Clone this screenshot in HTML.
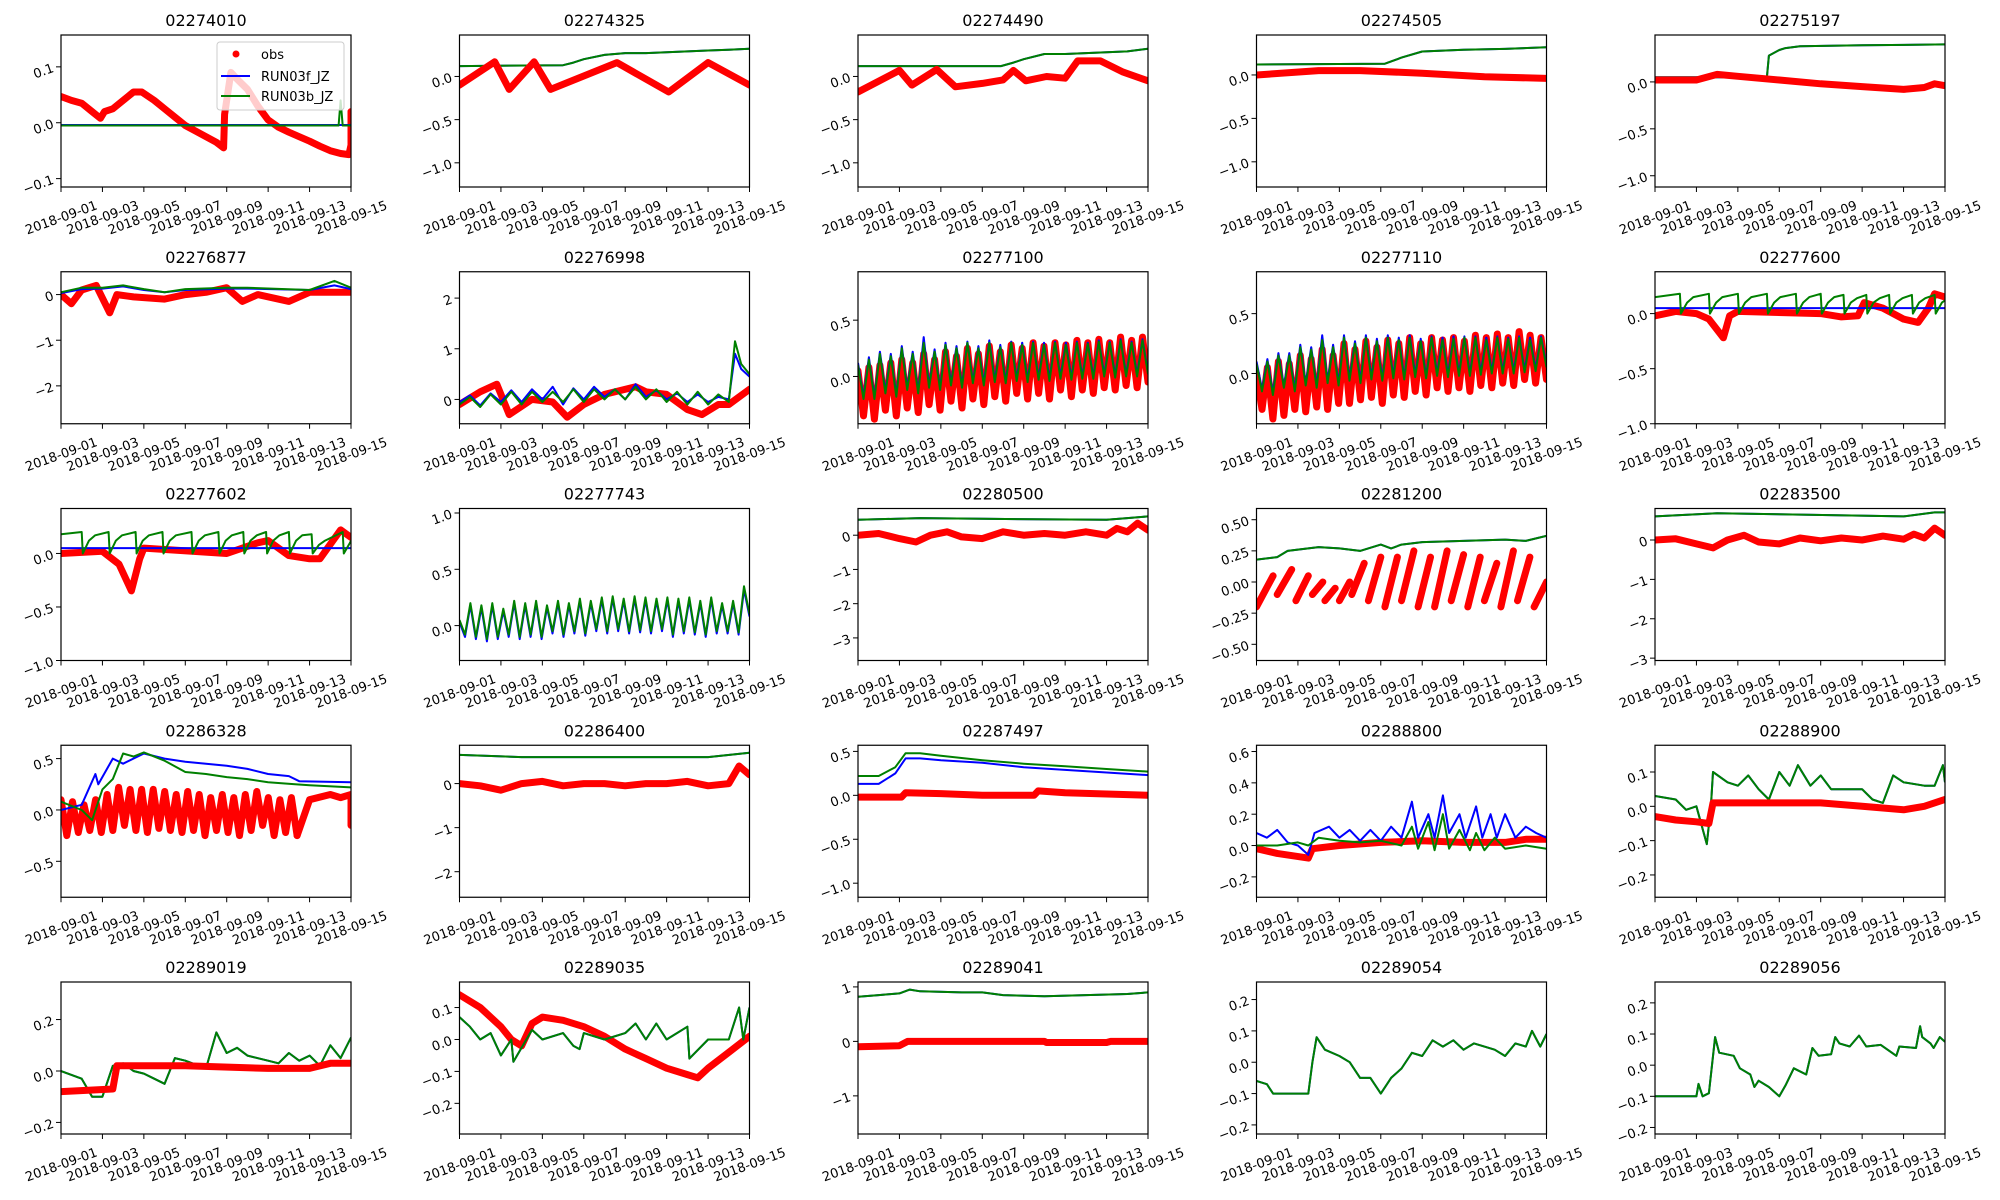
<!DOCTYPE html>
<html><head><meta charset="utf-8"><title>Station comparison grid</title>
<style>
html,body{margin:0;padding:0;background:#fff;}
svg{display:block;font-family:"DejaVu Sans","Liberation Sans",sans-serif;}
</style></head>
<body>
<svg id="fig" width="2000" height="1200" viewBox="0 0 2000 1200" xmlns="http://www.w3.org/2000/svg">
<rect x="0" y="0" width="2000" height="1200" fill="#fff"/>
</svg>
<script>
const panelNames=["02274010","02274325","02274490","02274505","02275197","02276877","02276998","02277100","02277110","02277600","02277602","02277743","02280500","02281200","02283500","02286328","02286400","02287497","02288800","02288900","02289019","02289035","02289041","02289054","02289056"];
const yMins=[-0.115,-1.28,-1.28,-1.29,-1.12,-2.83,-0.48,-0.42,-0.42,-1.0,-1.0,-0.31,-3.66,-0.63,-3.06,-0.85,-2.58,-1.16,-0.33,-0.265,-0.245,-0.296,-1.7,-0.229,-0.221];
const yMaxs=[0.157,0.48,0.48,0.46,0.5,0.5,2.52,0.93,0.85,0.38,0.42,1.04,0.78,0.59,0.8,0.63,0.87,0.57,0.64,0.178,0.346,0.18,1.09,0.256,0.267];
const yTickVals=[[-0.1,0,0.1],[-1,-0.5,0],[-1,-0.5,0],[-1,-0.5,0],[-1,-0.5,0],[-2,-1,0],[0,1,2],[0,0.5],[0,0.5],[-1,-0.5,0],[-1,-0.5,0],[0,0.5,1],[-3,-2,-1,0],[-0.5,-0.25,0,0.25,0.5],[-3,-2,-1,0],[-0.5,0,0.5],[-2,-1,0],[-1,-0.5,0,0.5],[-0.2,0,0.2,0.4,0.6],[-0.2,-0.1,0,0.1],[-0.2,0,0.2],[-0.2,-0.1,0,0.1],[-1,0,1],[-0.2,-0.1,0,0.1,0.2],[-0.2,-0.1,0,0.1,0.2]];
const yTickDecimals=[1,1,1,1,1,0,0,1,1,1,1,1,0,2,0,1,0,1,1,1,1,1,0,1,1];
const xTickLabels=["2018-09-01","2018-09-03","2018-09-05","2018-09-07","2018-09-09","2018-09-11","2018-09-13","2018-09-15"];
const xTickDays=[0,2,4,6,8,10,12,14];

// P0
const p0_obs_t=[0,0.5,1,1.5,1.9,2.1,2.5,3,3.5,3.9,4.5,5,5.5,6,6.5,7,7.5,7.85,7.9,8.2,8.5,9,9.5,10,10.5,11,11.5,12,12.5,13,13.5,13.9,14,14];
const p0_obs_v=[0.047,0.04,0.035,0.02,0.008,0.02,0.025,0.04,0.055,0.055,0.04,0.025,0.01,-0.005,-0.015,-0.025,-0.035,-0.045,0.015,0.09,0.078,0.06,0.03,0.005,-0.008,-0.017,-0.025,-0.033,-0.042,-0.05,-0.055,-0.057,-0.04,0.02];
const p0_f_t=[0,14]; const p0_f_v=[-0.004,-0.004];
const p0_b_t=[0,13.4,13.5,13.6,14]; const p0_b_v=[-0.005,-0.005,0.04,-0.005,-0.005];
// P1
const p1_m_t=[0,5,5.5,6,7,8,9,10,11,12,13,14]; const p1_m_v=[0.12,0.13,0.16,0.2,0.25,0.27,0.27,0.28,0.29,0.3,0.31,0.32];
const p1_obs_t=[0,1.7,2.4,3.6,4.4,7.6,10.1,12,14]; const p1_obs_v=[-0.1,0.17,-0.15,0.17,-0.15,0.16,-0.18,0.16,-0.1];
// P2
const p2_m_t=[0,6.9,7.5,8,9,10,11,12,13,14]; const p2_m_v=[0.12,0.12,0.16,0.2,0.26,0.26,0.27,0.28,0.29,0.32];
const p2_obs_t=[0,2.0,2.6,3.8,4.7,6,7,7.5,8.1,9.1,10,10.6,11.7,12.8,14]; const p2_obs_v=[-0.18,0.07,-0.1,0.08,-0.12,-0.08,-0.04,0.07,-0.05,0,-0.02,0.18,0.18,0.05,-0.05];
// P3
const p3_m_t=[0,6.2,7,8,9,10,12,14]; const p3_m_v=[0.12,0.13,0.2,0.27,0.28,0.29,0.3,0.32];
const p3_obs_t=[0,3,5,8,11,14]; const p3_obs_v=[0,0.05,0.05,0.02,-0.02,-0.04];
// P4
const p4_m_t=[0,5.4,5.5,6,6.3,7,10,14]; const p4_m_v=[0.05,0.05,0.28,0.34,0.36,0.38,0.39,0.4];
const p4_obs_t=[0,2,3,4,6,8,10,12,13,13.5,14]; const p4_obs_v=[0.02,0.02,0.08,0.06,0.02,-0.02,-0.05,-0.08,-0.06,-0.02,-0.04];
// P5
const p5_t=[0,1,2,3,4,5,6,8,9,12,13.2,14];
const p5_b_v=[0.05,0.15,0.15,0.2,0.12,0.05,0.12,0.15,0.15,0.1,0.3,0.15];
const p5_f_v=[0.03,0.12,0.13,0.18,0.1,0.05,0.1,0.13,0.13,0.1,0.2,0.12];
const p5_obs_t=[0,0.5,1,1.7,2.35,2.7,3.5,5,6,7,8,8.75,9.5,11,12,14]; const p5_obs_v=[0,-0.2,0.1,0.2,-0.4,0,-0.05,-0.1,0,0.05,0.15,-0.15,0,-0.15,0.05,0.05];
// P6
const p6_t=[0,0.5,1,1.5,2,2.5,3,3.5,4,4.5,5,5.5,6,6.5,7,7.5,8,8.5,9,9.5,10,10.5,11,11.5,12,12.5,13,13.3,13.6,14];
const p6_b_v=[-0.1,0.05,-0.15,0.1,-0.1,0.15,-0.1,0.15,-0.05,0.15,-0.05,0.2,-0.05,0.2,0,0.2,0,0.25,0,0.2,-0.05,0.15,-0.1,0.15,-0.1,0.1,-0.05,1.15,0.7,0.5];
const p6_f_v=[-0.05,0.08,-0.12,0.12,-0.05,0.18,-0.05,0.2,0,0.25,-0.1,0.22,0,0.25,0.05,0.2,0,0.3,0.05,0.18,0,0.12,-0.05,0.1,-0.05,0.05,0,0.9,0.6,0.45];
const p6_obs_t=[0,1,1.8,2.4,3.5,4.5,5.2,6,7,8.5,9,10,11,11.7,12.5,13,14]; const p6_obs_v=[-0.1,0.15,0.3,-0.3,0,-0.05,-0.35,-0.1,0.1,0.25,0.15,0.1,-0.2,-0.3,-0.1,-0.1,0.2];
// P7 (uniform sampling over 14 days)
const p7_obs_v=[0.05,-0.35,0.08,-0.38,0.1,-0.3,0.12,-0.35,0.15,-0.28,0.12,-0.32,0.2,-0.25,0.15,-0.3,0.22,-0.22,0.18,-0.28,0.25,-0.2,0.2,-0.25,0.27,-0.18,0.22,-0.22,0.28,-0.15,0.25,-0.2,0.3,-0.15,0.27,-0.2,0.3,-0.12,0.28,-0.18,0.32,-0.12,0.3,-0.15,0.33,-0.1,0.3,-0.12,0.35,-0.08,0.32,-0.1,0.35,-0.05];
const p7_b_v=[0.1,-0.2,0.15,-0.2,0.2,-0.15,0.18,-0.18,0.25,-0.12,0.2,-0.15,0.3,-0.1,0.22,-0.12,0.28,-0.08,0.25,-0.1,0.3,-0.06,0.25,-0.08,0.3,-0.05,0.26,-0.06,0.3,-0.04,0.28,-0.05,0.3,-0.03,0.28,-0.04,0.3,-0.02,0.28,-0.03,0.3,-0.02,0.29,-0.02,0.31,0.0,0.3,-0.01,0.32,0.0,0.3,0.0,0.32,0.02];
const p7_f_v=[0.12,-0.18,0.17,-0.18,0.22,-0.13,0.2,-0.16,0.27,-0.1,0.22,-0.13,0.35,-0.08,0.24,-0.1,0.3,-0.06,0.27,-0.08,0.31,-0.04,0.27,-0.06,0.32,-0.03,0.28,-0.04,0.31,-0.02,0.3,-0.03,0.31,-0.01,0.3,-0.02,0.31,0.0,0.3,-0.01,0.31,0.0,0.3,0.0,0.32,0.02,0.31,0.01,0.33,0.02,0.31,0.02,0.33,0.04];
// P8
const p8_obs_v=[0.0,-0.3,0.05,-0.38,0.1,-0.35,0.08,-0.3,0.15,-0.32,0.12,-0.28,0.2,-0.3,0.15,-0.25,0.25,-0.25,0.2,-0.22,0.27,-0.2,0.22,-0.25,0.28,-0.18,0.25,-0.2,0.3,-0.15,0.25,-0.18,0.3,-0.12,0.28,-0.15,0.3,-0.12,0.27,-0.15,0.32,-0.1,0.3,-0.12,0.33,-0.08,0.3,-0.1,0.35,-0.05,0.32,-0.08,0.3,-0.05];
const p8_b_v=[0.08,-0.15,0.1,-0.18,0.15,-0.12,0.15,-0.15,0.22,-0.1,0.2,-0.12,0.28,-0.08,0.22,-0.1,0.3,-0.06,0.25,-0.08,0.3,-0.05,0.27,-0.06,0.3,-0.04,0.28,-0.05,0.3,-0.03,0.27,-0.04,0.3,-0.02,0.28,-0.03,0.29,-0.02,0.3,-0.02,0.3,-0.01,0.28,0.0,0.3,0.0,0.29,0.0,0.3,0.01,0.28,0.02,0.3,0.05];
const p8_f_v=[0.1,-0.13,0.12,-0.16,0.17,-0.1,0.17,-0.13,0.24,-0.08,0.22,-0.1,0.32,-0.06,0.24,-0.08,0.32,-0.04,0.27,-0.06,0.32,-0.03,0.29,-0.04,0.32,-0.02,0.3,-0.03,0.32,-0.01,0.29,-0.02,0.31,0.0,0.3,-0.01,0.31,0.0,0.31,0.0,0.31,0.01,0.3,0.02,0.31,0.02,0.3,0.02,0.31,0.03,0.3,0.04,0.31,0.07];
// P9
const p9_f_t=[0,14]; const p9_f_v=[0.05,0.05];
const p9_b_t=[0,1.2,1.25,1.55,1.85,2.6,2.65,2.95,3.25,4.0,4.05,4.35,4.65,5.4,5.45,5.75,6.05,6.8,6.85,7.15,7.45,8.0,8.05,8.35,8.65,9.1,9.15,9.45,9.75,10.2,10.25,10.55,10.85,11.3,11.35,11.65,11.95,12.4,12.45,12.75,13.05,13.5,13.55,13.85,14];
const p9_b_v=[0.15,0.18,0,0.1,0.15,0.18,0,0.1,0.15,0.18,0,0.1,0.15,0.18,0,0.1,0.15,0.18,0,0.1,0.15,0.18,0,0.1,0.15,0.17,0,0.1,0.14,0.17,0,0.1,0.14,0.17,0,0.1,0.14,0.17,0,0.1,0.14,0.17,0,0.1,0.12];
const p9_obs_t=[0,1,2,2.6,3.3,3.6,4,8,9,9.8,10.1,11,12,12.7,13.2,13.5,14]; const p9_obs_v=[-0.02,0.02,0,-0.05,-0.22,-0.02,0.02,0,-0.03,-0.02,0.1,0.05,-0.05,-0.08,0.05,0.18,0.15];
// P10
const p10_f_t=[0,14]; const p10_f_v=[0.05,0.05];
const p10_b_t=[0,1.0,1.05,1.35,1.65,2.3,2.35,2.65,2.95,3.6,3.65,3.95,4.25,4.9,4.95,5.25,5.55,6.3,6.35,6.65,6.95,7.6,7.65,7.95,8.25,8.8,8.85,9.15,9.45,9.9,9.95,10.25,10.55,11.0,11.05,11.35,11.65,12.1,12.15,12.45,12.75,13.6,13.65,13.95,14];
const p10_b_v=[0.18,0.2,0,0.12,0.17,0.2,0,0.12,0.17,0.2,0,0.12,0.17,0.2,0,0.12,0.17,0.2,0,0.12,0.17,0.2,0,0.12,0.17,0.2,0,0.12,0.17,0.2,0,0.12,0.17,0.2,0,0.12,0.17,0.18,0,0.08,0.12,0.2,0,0.1,0.12];
const p10_obs_t=[0,2,2.8,3.4,3.8,4,8,9.5,10,11,12,12.5,13.5,14]; const p10_obs_v=[0,0.02,-0.1,-0.35,-0.05,0.05,0,0.1,0.12,-0.02,-0.05,-0.05,0.22,0.15];
// P11
const p11_b_v=[0.05,-0.08,0.2,-0.1,0.18,-0.12,0.2,-0.1,0.15,-0.08,0.22,-0.1,0.2,-0.08,0.22,-0.1,0.18,-0.05,0.22,-0.08,0.2,-0.05,0.24,-0.07,0.22,-0.03,0.25,-0.05,0.26,-0.03,0.24,-0.05,0.26,-0.04,0.25,-0.05,0.24,-0.03,0.25,-0.08,0.24,-0.05,0.25,-0.06,0.22,-0.08,0.25,-0.05,0.2,-0.05,0.22,-0.06,0.35,0.1];
const p11_f_v=[0.03,-0.1,0.18,-0.12,0.16,-0.14,0.18,-0.12,0.13,-0.1,0.2,-0.12,0.18,-0.1,0.2,-0.12,0.16,-0.07,0.2,-0.1,0.18,-0.07,0.22,-0.09,0.2,-0.05,0.23,-0.07,0.24,-0.05,0.22,-0.07,0.24,-0.06,0.23,-0.07,0.22,-0.05,0.23,-0.1,0.22,-0.07,0.23,-0.08,0.2,-0.1,0.23,-0.07,0.18,-0.07,0.2,-0.08,0.32,0.08];
// P12
const p12_m_t=[0,3,6,12,13,14]; const p12_m_v=[0.45,0.5,0.48,0.45,0.5,0.55];
const p12_obs_t=[0,1,2,2.8,3.5,4.3,5,6,7,8,9,10,11,12,12.5,13,13.5,14]; const p12_obs_v=[0,0.05,-0.1,-0.2,0,0.1,-0.05,-0.1,0.1,0,0.05,0,0.1,0,0.2,0.1,0.35,0.15];
// P13
const p13_m_t=[0,1,1.5,2,3,4,5,6,6.5,7,8,10,12,13,14]; const p13_m_v=[0.18,0.2,0.25,0.26,0.28,0.27,0.25,0.3,0.27,0.3,0.32,0.33,0.34,0.33,0.37];
const p13_obs_t=[0,0.8,null,1,1.7,null,1.9,2.5,null,2.7,3.2,null,3.3,3.8,null,4.0,4.5,null,4.6,5.2,null,5.4,6.0,null,6.2,6.8,null,7.0,7.6,null,7.8,8.4,null,8.6,9.2,null,9.4,10.0,null,10.2,10.8,null,11.0,11.6,null,11.8,12.4,null,12.6,13.2,null,13.4,14.0];
const p13_obs_v=[-0.2,0.05,null,-0.1,0.1,null,-0.15,0.05,null,-0.1,0,null,-0.15,-0.05,null,-0.15,0,null,-0.1,0.15,null,-0.15,0.2,null,-0.2,0.2,null,-0.15,0.25,null,-0.2,0.2,null,-0.2,0.25,null,-0.15,0.22,null,-0.2,0.2,null,-0.15,0.15,null,-0.2,0.25,null,-0.15,0.2,null,-0.2,0];
// P14
const p14_m_t=[0,3,12,13.5,14]; const p14_m_v=[0.6,0.68,0.6,0.7,0.7];
const p14_obs_t=[0,1,2,2.8,3.5,4.3,5,6,7,8,9,10,11,12,12.5,13,13.5,14]; const p14_obs_v=[0,0.03,-0.1,-0.2,0,0.12,-0.05,-0.1,0.05,-0.02,0.05,0,0.1,0.02,0.15,0.05,0.3,0.12];
// P15
const p15_f_t=[0,1,1.66,1.8,2.5,3,4,5,6,7,8,9,10,11,11.5,14]; const p15_f_v=[0,0.05,0.35,0.25,0.5,0.45,0.55,0.5,0.47,0.45,0.43,0.4,0.35,0.33,0.28,0.27];
const p15_b_t=[0,1,1.5,2,2.5,3,3.5,4,5,6,7,8,9,10,11.3,12,14]; const p15_b_v=[0.08,0,-0.1,0.2,0.3,0.55,0.52,0.56,0.48,0.37,0.35,0.32,0.3,0.27,0.25,0.24,0.22];
const p15_obs_v=[0.1,-0.25,0.08,-0.22,0.05,-0.2,0.1,-0.22,0.15,-0.2,0.22,-0.15,0.2,-0.2,0.2,-0.22,0.2,-0.18,0.18,-0.2,0.15,-0.22,0.18,-0.2,0.15,-0.25,0.12,-0.2,0.15,-0.22,0.12,-0.25,0.15,-0.2,0.18,-0.15,0.12,-0.25,0.1,-0.22,0.12,-0.25];
const p15_obs_span=[0,11.4];
const p15_tail_t=[11.4,12,13,13.5,14,14]; const p15_tail_v=[-0.25,0.1,0.15,0.12,0.15,-0.15];
// P16
const p16_m_t=[0,3,12,14]; const p16_m_v=[0.65,0.6,0.6,0.7];
const p16_obs_t=[0,1,2,3,4,5,6,7,8,9,10,11,12,13,13.5,14]; const p16_obs_v=[0,-0.05,-0.15,0,0.05,-0.05,0,0,-0.05,0,0,0.05,-0.05,0,0.4,0.2];
// P17
const p17_t=[0,1,1.8,2.3,3,4,6,8,10,12,14];
const p17_f_v=[0.13,0.13,0.25,0.42,0.42,0.4,0.37,0.32,0.29,0.26,0.23];
const p17_b_v=[0.22,0.22,0.32,0.48,0.48,0.45,0.4,0.36,0.33,0.3,0.27];
const p17_obs_t=[0,2.1,2.3,4,6,8.5,8.7,10,14]; const p17_obs_v=[-0.02,-0.02,0.03,0.02,0,0,0.05,0.03,0];
// P18
const p18_f_t=[0,0.5,1,1.5,2,2.5,2.8,3.5,4,4.5,5,5.5,6,6.5,7,7.5,7.8,8.3,8.6,9,9.3,9.8,10.1,10.6,10.9,11.3,11.6,12,12.5,13,13.5,14];
const p18_f_v=[0.08,0.05,0.1,0.02,0,-0.06,0.08,0.12,0.05,0.1,0.03,0.1,0.03,0.12,0.05,0.28,0.05,0.2,0.05,0.32,0.08,0.2,0.05,0.25,0.05,0.2,0.05,0.2,0.05,0.12,0.08,0.05];
const p18_b_t=[0,1,2,2.5,3,4,5,6,7,7.5,7.8,8.3,8.6,9,9.3,9.8,10.3,10.6,11,11.5,12,13,14];
const p18_b_v=[0,0,0.02,0,0.05,0.03,0.02,0.03,0,0.12,-0.02,0.15,-0.03,0.2,-0.02,0.1,-0.03,0.08,-0.03,0.05,-0.02,0,-0.02];
const p18_obs_t=[0,1,2.5,2.7,4,6,8,10,12,13,14]; const p18_obs_v=[-0.02,-0.05,-0.08,-0.02,0,0.02,0.03,0.02,0.02,0.04,0.04];
// P19
const p19_m_t=[0,1,1.5,2,2.5,2.7,2.8,3.5,4,4.5,5,5.5,6,6.5,6.9,7.5,8,8.5,9,10,10.5,11,11.5,12,13,13.5,13.9,14];
const p19_m_v=[0.03,0.02,-0.01,0,-0.11,0,0.1,0.07,0.06,0.09,0.05,0.02,0.1,0.06,0.12,0.06,0.09,0.05,0.05,0.05,0.02,0.01,0.09,0.07,0.06,0.06,0.12,0.07];
const p19_obs_t=[0,1,2,2.6,2.8,4,6,8,10,12,13,14]; const p19_obs_v=[-0.03,-0.04,-0.045,-0.05,0.01,0.01,0.01,0.01,0,-0.01,0,0.02];
// P20
const p20_m_t=[0,1,1.5,2,2.5,3,3.5,4,4.5,5,5.5,6,7,7.5,8,8.5,9,10,10.5,11,11.5,12,12.5,13,13.5,14];
const p20_m_v=[0,-0.03,-0.1,-0.1,0.02,0.03,0,-0.01,-0.03,-0.05,0.05,0.04,0.01,0.15,0.07,0.09,0.06,0.04,0.03,0.07,0.04,0.06,0.02,0.1,0.05,0.13];
const p20_obs_t=[0,2.5,2.7,6,10,12,13,14]; const p20_obs_v=[-0.08,-0.07,0.02,0.02,0.01,0.01,0.03,0.03];
// P21
const p21_m_t=[0,0.5,1,1.5,2,2.5,2.6,3.5,4,5,5.5,5.8,6,7,8,8.5,9,9.5,10,11,11.1,12,13,13.5,13.7,14];
const p21_m_v=[0.07,0.04,0,0.02,-0.05,0,-0.07,0.03,0,0.02,-0.02,-0.03,0.02,0,0.02,0.05,0,0.05,0,0.04,-0.06,0,0,0.1,0,0.1];
const p21_obs_t=[0,1,2,2.5,3,3.5,4,5,6,7,8,9,10,11,11.5,12,13,14]; const p21_obs_v=[0.14,0.1,0.04,0,-0.02,0.05,0.07,0.06,0.04,0.01,-0.03,-0.06,-0.09,-0.11,-0.12,-0.09,-0.04,0.01];
// P22
const p22_m_t=[0,1,2,2.5,3,5,6,7,9,11,13,14]; const p22_m_v=[0.82,0.85,0.88,0.95,0.92,0.9,0.9,0.85,0.83,0.85,0.87,0.9];
const p22_obs_t=[0,2,2.4,9,9.1,12,12.2,14]; const p22_obs_v=[-0.1,-0.08,0,0,-0.02,-0.02,0,0];
// P23
const p23_m_t=[0,0.5,0.8,2.5,2.7,2.9,3.3,4,4.5,5,5.5,6,6.5,7,7.5,8,8.5,9,9.5,10,10.5,11,11.5,12,12.5,13,13.3,13.7,14];
const p23_m_v=[-0.06,-0.07,-0.1,-0.1,0,0.08,0.04,0.02,0,-0.05,-0.05,-0.1,-0.05,-0.02,0.03,0.02,0.07,0.05,0.07,0.04,0.06,0.05,0.04,0.02,0.06,0.05,0.1,0.05,0.09];
// P24
const p24_m_t=[0,2.0,2.1,2.3,2.6,2.9,3.1,3.8,4.1,4.6,4.8,5.0,5.5,6.0,6.3,6.7,7.3,7.6,7.9,8.5,8.7,8.9,9.4,9.85,10.2,10.9,11.65,11.8,12.6,12.8,12.9,13.3,13.45,13.75,14];
const p24_m_v=[-0.1,-0.1,-0.06,-0.1,-0.09,0.09,0.04,0.03,-0.01,-0.03,-0.07,-0.05,-0.07,-0.1,-0.065,-0.01,-0.03,0.055,0.03,0.035,0.09,0.07,0.06,0.095,0.06,0.065,0.03,0.06,0.055,0.125,0.09,0.07,0.055,0.09,0.075];

// series registry: [t-array or null (uniform), values, kind, span]
const panelSeries=[
 [[p0_obs_t,p0_obs_v,"obs"],[p0_f_t,p0_f_v,"f"],[p0_b_t,p0_b_v,"b"]],
 [[p1_m_t,p1_m_v,"f"],[p1_m_t,p1_m_v,"b"],[p1_obs_t,p1_obs_v,"obs"]],
 [[p2_m_t,p2_m_v,"f"],[p2_m_t,p2_m_v,"b"],[p2_obs_t,p2_obs_v,"obs"]],
 [[p3_m_t,p3_m_v,"f"],[p3_m_t,p3_m_v,"b"],[p3_obs_t,p3_obs_v,"obs"]],
 [[p4_m_t,p4_m_v,"f"],[p4_m_t,p4_m_v,"b"],[p4_obs_t,p4_obs_v,"obs"]],
 [[p5_obs_t,p5_obs_v,"obs"],[p5_t,p5_f_v,"f"],[p5_t,p5_b_v,"b"]],
 [[p6_obs_t,p6_obs_v,"obs"],[p6_t,p6_f_v,"f"],[p6_t,p6_b_v,"b"]],
 [[null,p7_obs_v,"obs"],[null,p7_f_v,"f"],[null,p7_b_v,"b"]],
 [[null,p8_obs_v,"obs"],[null,p8_f_v,"f"],[null,p8_b_v,"b"]],
 [[p9_obs_t,p9_obs_v,"obs"],[p9_f_t,p9_f_v,"f"],[p9_b_t,p9_b_v,"b"]],
 [[p10_obs_t,p10_obs_v,"obs"],[p10_f_t,p10_f_v,"f"],[p10_b_t,p10_b_v,"b"]],
 [[null,p11_f_v,"f"],[null,p11_b_v,"b"]],
 [[p12_m_t,p12_m_v,"f"],[p12_m_t,p12_m_v,"b"],[p12_obs_t,p12_obs_v,"obs"]],
 [[p13_m_t,p13_m_v,"f"],[p13_m_t,p13_m_v,"b"],[p13_obs_t,p13_obs_v,"obs"]],
 [[p14_m_t,p14_m_v,"f"],[p14_m_t,p14_m_v,"b"],[p14_obs_t,p14_obs_v,"obs"]],
 [[null,p15_obs_v,"obs",p15_obs_span],[p15_tail_t,p15_tail_v,"obs"],[p15_f_t,p15_f_v,"f"],[p15_b_t,p15_b_v,"b"]],
 [[p16_m_t,p16_m_v,"f"],[p16_m_t,p16_m_v,"b"],[p16_obs_t,p16_obs_v,"obs"]],
 [[p17_t,p17_f_v,"f"],[p17_t,p17_b_v,"b"],[p17_obs_t,p17_obs_v,"obs"]],
 [[p18_obs_t,p18_obs_v,"obs"],[p18_f_t,p18_f_v,"f"],[p18_b_t,p18_b_v,"b"]],
 [[p19_m_t,p19_m_v,"f"],[p19_m_t,p19_m_v,"b"],[p19_obs_t,p19_obs_v,"obs"]],
 [[p20_m_t,p20_m_v,"f"],[p20_m_t,p20_m_v,"b"],[p20_obs_t,p20_obs_v,"obs"]],
 [[p21_obs_t,p21_obs_v,"obs"],[p21_m_t,p21_m_v,"f"],[p21_m_t,p21_m_v,"b"]],
 [[p22_m_t,p22_m_v,"f"],[p22_m_t,p22_m_v,"b"],[p22_obs_t,p22_obs_v,"obs"]],
 [[p23_m_t,p23_m_v,"f"],[p23_m_t,p23_m_v,"b"]],
 [[p24_m_t,p24_m_v,"f"],[p24_m_t,p24_m_v,"b"]]
];

const NS="http://www.w3.org/2000/svg";
const svg=document.getElementById("fig");
const AX_W=290, AX_H=152;
function mk(tag,attrs,parent){const e=document.createElementNS(NS,tag);for(const k in attrs)e.setAttribute(k,attrs[k]);(parent||svg).appendChild(e);return e;}
function fmt(v,d){const s=Math.abs(v).toFixed(d);return (v<0?"\u2212":"")+s;}
const colors={obs:"#ff0000",f:"#0000ff",b:"#008000"};

panelNames.forEach((name,i)=>{
  const c=i%5, r=Math.floor(i/5);
  const L=61+398.5*c, T=35+236.75*r;
  const ymin=yMins[i], ymax=yMaxs[i];
  const xs=t=>L+t/14*AX_W;
  const ys=v=>T+(ymax-v)/(ymax-ymin)*AX_H;
  const g=mk("g",{});
  
  
  const cp=mk("clipPath",{id:"clip"+i},g);
  mk("rect",{x:L,y:T,width:AX_W,height:AX_H},cp);
  const title=mk("text",{x:L+AX_W/2,y:T-9,"text-anchor":"middle","font-size":"16"},g);
  title.textContent=name;
  
  
  const plot=mk("g",{"clip-path":"url(#clip"+i+")"},g);
  
  
  panelSeries[i].forEach(s=>{
    const tArr=s[0], vArr=s[1], kind=s[2], span=s[3]||[0,14];
    let d="", pen=false;
    for(let k=0;k<vArr.length;k++){
      const v=vArr[k];
      const t=tArr?tArr[k]:span[0]+k*(span[1]-span[0])/(vArr.length-1);
      if(v===null||t===null){pen=false;continue;}
      d+=(pen?"L":"M")+xs(t).toFixed(1)+","+ys(v).toFixed(1);
      pen=true;
    }
    const p=mk("path",{d:d,fill:"none",stroke:colors[kind],"stroke-width":kind==="obs"?7:2,"stroke-linecap":kind==="obs"?"round":"butt","stroke-linejoin":"round"},plot);
    
    
  });
  const frame=mk("rect",{x:L,y:T,width:AX_W,height:AX_H,fill:"none",stroke:"#000","stroke-width":1.2},g);
  
  
  yTickVals[i].forEach(v=>{
    const y=ys(v);
    mk("line",{x1:L-5,y1:y,x2:L,y2:y,stroke:"#000","stroke-width":1},g);
    const tx=mk("text",{x:L-8,y:y+5,"text-anchor":"end","font-size":"13",transform:"rotate(-20 "+(L-8)+" "+y+")"},g);
    tx.textContent=fmt(v,yTickDecimals[i]);
    
    
  });
  xTickDays.forEach((dday,k)=>{
    const x=xs(dday), yb=T+AX_H;
    mk("line",{x1:x,y1:yb,x2:x,y2:yb+5,stroke:"#000","stroke-width":1},g);
    const tx=mk("text",{x:x,y:yb+35,"text-anchor":"middle","font-size":"13",transform:"rotate(-20 "+x+" "+(yb+30)+")"},g);
    tx.textContent=xTickLabels[k];
    
    
  });
});

// legend in first panel
const lg=mk("g",{});


mk("rect",{x:217,y:42,width:127,height:68,rx:3,fill:"#fff","fill-opacity":0.8,stroke:"#ccc","stroke-width":1},lg);
const obsDot=mk("circle",{cx:236,cy:54,r:3.5,fill:"#ff0000"},lg);


mk("line",{x1:221,y1:76,x2:250,y2:76,stroke:"#0000ff","stroke-width":2},lg);
mk("line",{x1:221,y1:96,x2:250,y2:96,stroke:"#008000","stroke-width":2},lg);
[["obs",59],["RUN03f_JZ",81],["RUN03b_JZ",101]].forEach(e=>{
  const t=mk("text",{x:261,y:e[1],"font-size":"13"},lg);
  t.textContent=e[0];
  
  
});
</script>
</body></html>
